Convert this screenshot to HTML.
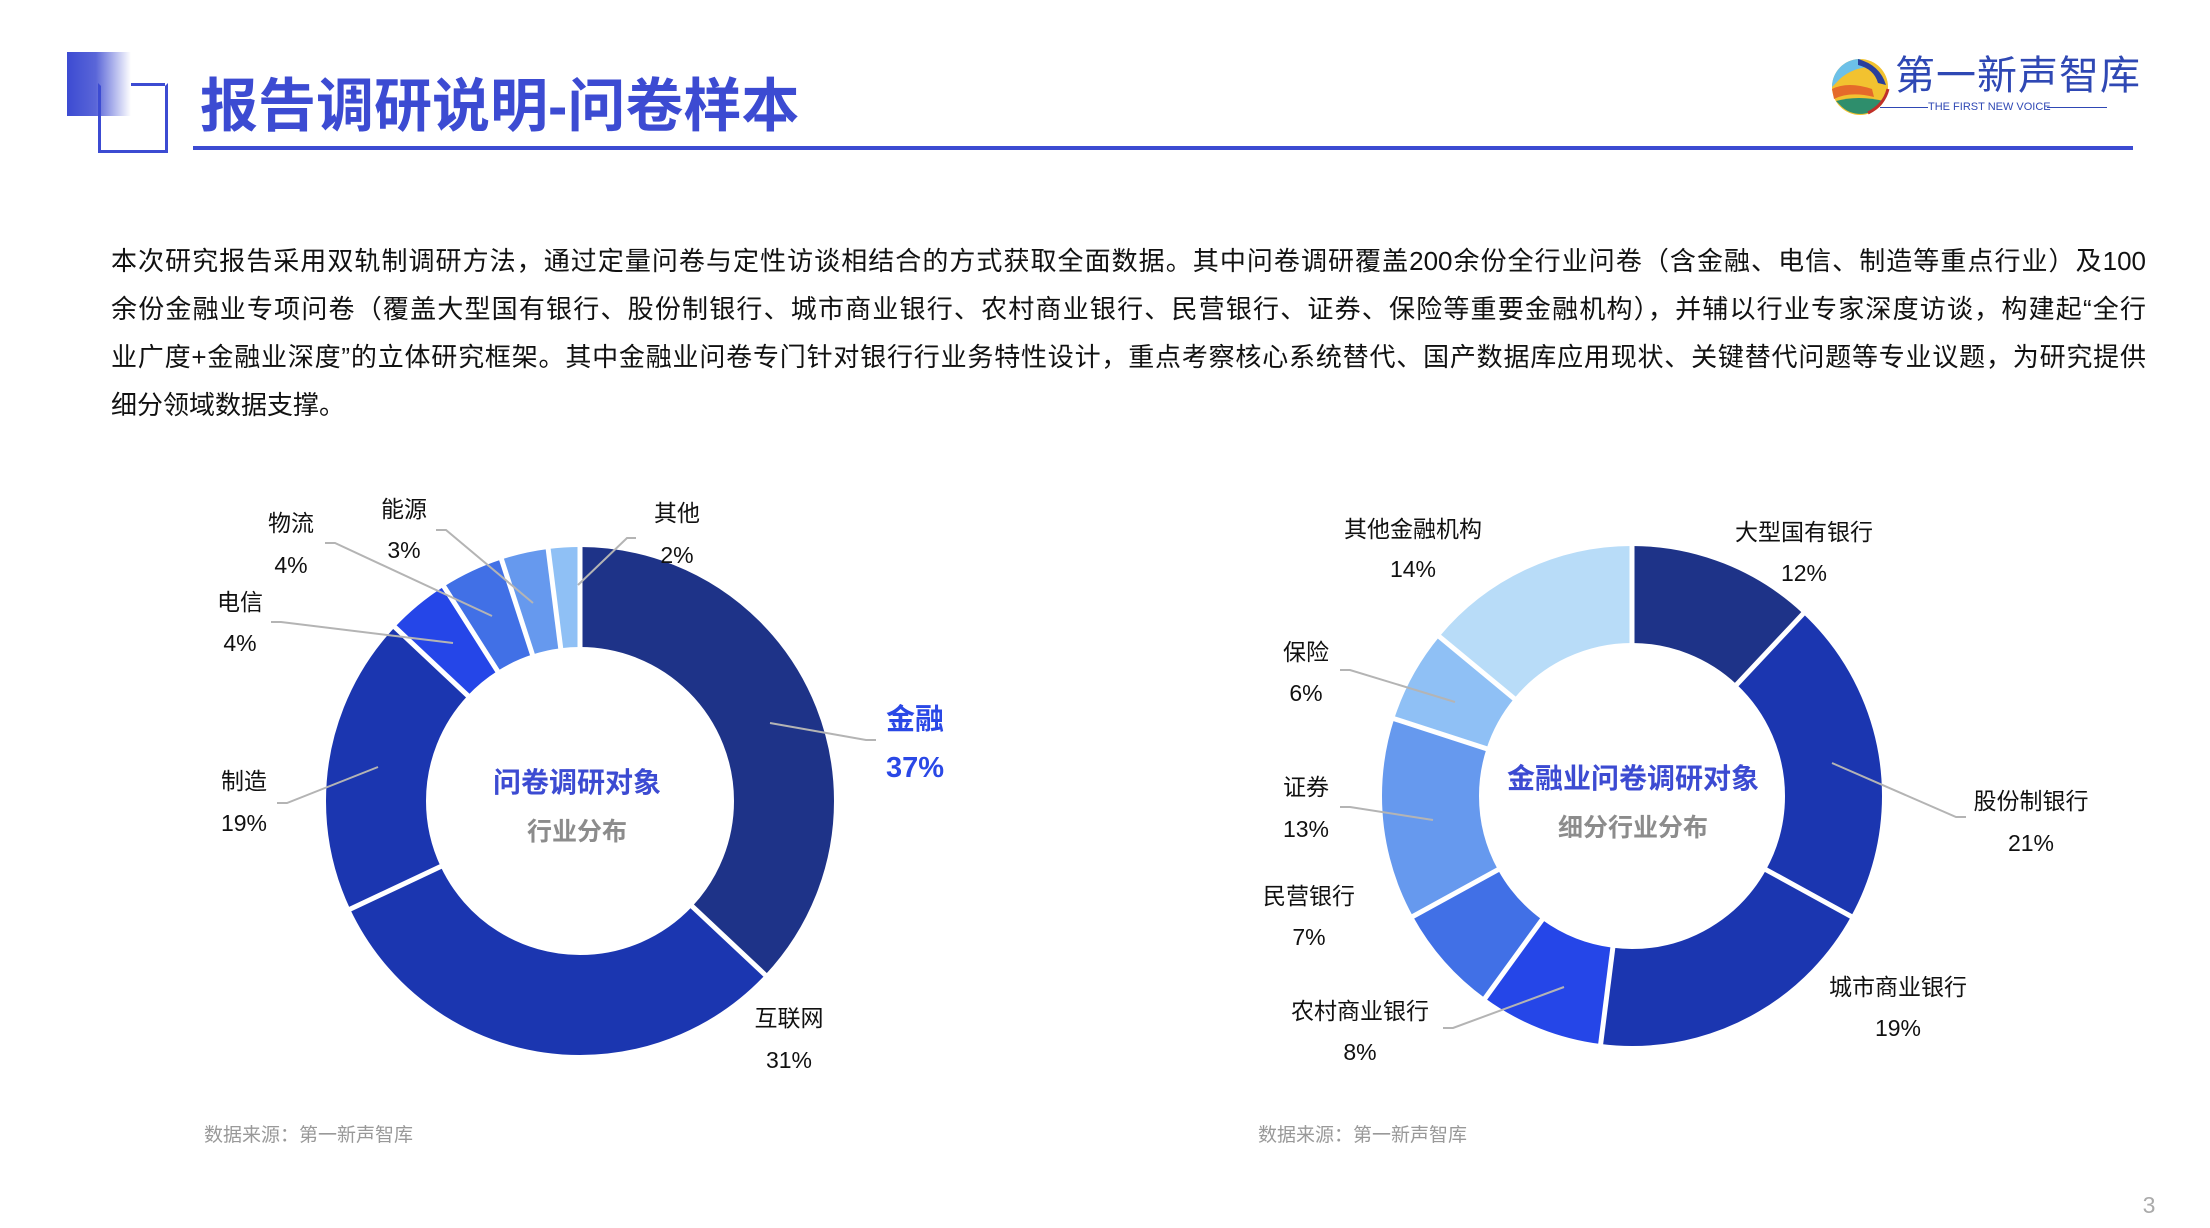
<!DOCTYPE html>
<html><head><meta charset="utf-8">
<style>
html,body{margin:0;padding:0;background:#fff;}
body{width:2210px;height:1228px;position:relative;overflow:hidden;font-family:"Liberation Sans","Noto Sans CJK SC",sans-serif;}
.abs{position:absolute;}
.para{position:absolute;left:111px;width:2035px;font-size:26px;color:#111;white-space:nowrap;text-align:justify;text-align-last:justify;line-height:34px;}
</style></head><body>
<div class="abs" style="left:67px;top:52px;width:64px;height:64px;background:linear-gradient(90deg,#3c4bd2 0%,#5a66d8 45%,#ffffff 100%);"></div>
<div class="abs" style="left:98px;top:83px;width:64px;height:64px;border:3px solid #3c4bd2;border-top-color:transparent;border-left-color:#3c4bd2;"></div>
<div class="abs" style="left:98px;top:83px;width:35px;height:33px;background:transparent;border-top:3px solid transparent;"></div>
<div class="abs" style="left:131px;top:83px;width:34px;height:3px;background:#3c4bd2;"></div>
<div class="abs" style="left:200px;top:72px;font-size:58px;font-weight:bold;color:#3c4bd2;line-height:70px;white-space:nowrap;">报告调研说明-问卷样本</div>
<div class="abs" style="left:193px;top:146px;width:1940px;height:4px;background:#3c4bd2;"></div>

<svg class="abs" style="left:1828px;top:55px" width="64" height="64" viewBox="0 0 64 64">
<circle cx="32" cy="32" r="28" fill="#f2c230"/>
<path d="M4 32 A28 28 0 0 1 32 4 L40 12 Q20 14 8 28Z" fill="#6cc0e8"/>
<path d="M4 34 Q20 26 44 34 L46 42 Q22 36 6 44Z" fill="#e56a2a"/>
<path d="M8 46 Q30 40 56 46 A28 28 0 0 1 14 52Z" fill="#2e8e6c"/>
<path d="M30 4 Q52 10 58 30 L50 28 Q46 14 30 10Z" fill="#2a3f9c"/>
<path d="M40 58 Q56 50 60 34" stroke="#c0302a" stroke-width="3" fill="none"/>
</svg>
<div class="abs" style="left:1895px;top:52px;font-size:40px;color:#2f48b4;line-height:48px;white-space:nowrap;letter-spacing:1px;">第一新声智库</div>
<div class="abs" style="left:1880px;top:107px;width:48px;height:1px;background:#2f48b4;"></div>
<div class="abs" style="left:1928px;top:99px;font-size:11px;color:#2f48b4;white-space:nowrap;line-height:16px;">THE FIRST NEW VOICE</div>
<div class="abs" style="left:2047px;top:107px;width:60px;height:1px;background:#2f48b4;"></div>

<div class="para" style="top:244px;">本次研究报告采用双轨制调研方法，通过定量问卷与定性访谈相结合的方式获取全面数据。其中问卷调研覆盖200余份全行业问卷（含金融、电信、制造等重点行业）及100</div>
<div class="para" style="top:292px;">余份金融业专项问卷（覆盖大型国有银行、股份制银行、城市商业银行、农村商业银行、民营银行、证券、保险等重要金融机构），并辅以行业专家深度访谈，构建起“全行</div>
<div class="para" style="top:340px;">业广度+金融业深度”的立体研究框架。其中金融业问卷专门针对银行行业务特性设计，重点考察核心系统替代、国产数据库应用现状、关键替代问题等专业议题，为研究提供</div>
<div class="para" style="top:388px;text-align-last:left;">细分领域数据支撑。</div>

<svg class="abs" style="left:0;top:0" width="2210" height="1228">
<g transform="rotate(-90 580 801)" fill="none" stroke-width="100">
<circle cx="580" cy="801" r="204" pathLength="100" stroke="#1e3388" stroke-dasharray="37 63" stroke-dashoffset="0"/>
<circle cx="580" cy="801" r="204" pathLength="100" stroke="#1b36b0" stroke-dasharray="31 69" stroke-dashoffset="-37"/>
<circle cx="580" cy="801" r="204" pathLength="100" stroke="#1b36b0" stroke-dasharray="19 81" stroke-dashoffset="-68"/>
<circle cx="580" cy="801" r="204" pathLength="100" stroke="#2546e8" stroke-dasharray="4 96" stroke-dashoffset="-87"/>
<circle cx="580" cy="801" r="204" pathLength="100" stroke="#4170e6" stroke-dasharray="4 96" stroke-dashoffset="-91"/>
<circle cx="580" cy="801" r="204" pathLength="100" stroke="#6699ee" stroke-dasharray="3 97" stroke-dashoffset="-95"/>
<circle cx="580" cy="801" r="204" pathLength="100" stroke="#8fc0f5" stroke-dasharray="2 98" stroke-dashoffset="-98"/>
</g>
<g stroke="#fff" stroke-width="5">
<line x1="580" y1="650" x2="580" y2="544" transform="rotate(0 580 801)"/>
<line x1="580" y1="650" x2="580" y2="544" transform="rotate(133.2 580 801)"/>
<line x1="580" y1="650" x2="580" y2="544" transform="rotate(244.8 580 801)"/>
<line x1="580" y1="650" x2="580" y2="544" transform="rotate(313.2 580 801)"/>
<line x1="580" y1="650" x2="580" y2="544" transform="rotate(327.6 580 801)"/>
<line x1="580" y1="650" x2="580" y2="544" transform="rotate(342 580 801)"/>
<line x1="580" y1="650" x2="580" y2="544" transform="rotate(352.8 580 801)"/>
</g>
<g stroke="#b4b4b4" stroke-width="2" fill="none">
<polyline points="578,585 627,538 636,538"/>
<polyline points="533,603 446,530 436,530"/>
<polyline points="492,616 335,543 325,543"/>
<polyline points="453,643 281,622 271,622"/>
<polyline points="378,767 287,803 277,803"/>
<polyline points="770,723 866,740 876,740"/>
</g>

<g transform="rotate(-90 1632 796)" fill="none" stroke-width="97">
<circle cx="1632" cy="796" r="201.5" pathLength="100" stroke="#1e3388" stroke-dasharray="12 88" stroke-dashoffset="0"/>
<circle cx="1632" cy="796" r="201.5" pathLength="100" stroke="#1b36b0" stroke-dasharray="21 79" stroke-dashoffset="-12"/>
<circle cx="1632" cy="796" r="201.5" pathLength="100" stroke="#1b36b0" stroke-dasharray="19 81" stroke-dashoffset="-33"/>
<circle cx="1632" cy="796" r="201.5" pathLength="100" stroke="#2546e8" stroke-dasharray="8 92" stroke-dashoffset="-52"/>
<circle cx="1632" cy="796" r="201.5" pathLength="100" stroke="#4170e6" stroke-dasharray="7 93" stroke-dashoffset="-60"/>
<circle cx="1632" cy="796" r="201.5" pathLength="100" stroke="#6699ee" stroke-dasharray="13 87" stroke-dashoffset="-67"/>
<circle cx="1632" cy="796" r="201.5" pathLength="100" stroke="#8fc0f5" stroke-dasharray="6 94" stroke-dashoffset="-80"/>
<circle cx="1632" cy="796" r="201.5" pathLength="100" stroke="#b8dcf8" stroke-dasharray="14 86" stroke-dashoffset="-86"/>
</g>
<g stroke="#fff" stroke-width="5">
<line x1="1632" y1="646" x2="1632" y2="542" transform="rotate(0 1632 796)"/>
<line x1="1632" y1="646" x2="1632" y2="542" transform="rotate(43.2 1632 796)"/>
<line x1="1632" y1="646" x2="1632" y2="542" transform="rotate(118.8 1632 796)"/>
<line x1="1632" y1="646" x2="1632" y2="542" transform="rotate(187.2 1632 796)"/>
<line x1="1632" y1="646" x2="1632" y2="542" transform="rotate(216 1632 796)"/>
<line x1="1632" y1="646" x2="1632" y2="542" transform="rotate(241.2 1632 796)"/>
<line x1="1632" y1="646" x2="1632" y2="542" transform="rotate(288 1632 796)"/>
<line x1="1632" y1="646" x2="1632" y2="542" transform="rotate(309.6 1632 796)"/>
</g>
<g stroke="#b4b4b4" stroke-width="2" fill="none">
<polyline points="1455,702 1350,670 1340,670"/>
<polyline points="1433,820 1350,807 1340,807"/>
<polyline points="1564,987 1453,1028 1443,1028"/>
<polyline points="1832,763 1956,817 1966,817"/>
</g>

<g font-family="Liberation Sans, Noto Sans CJK SC, sans-serif" font-size="23" fill="#111" text-anchor="middle">
<text x="677" y="521">其他</text><text x="677" y="563">2%</text>
<text x="404" y="517">能源</text><text x="404" y="558">3%</text>
<text x="291" y="531">物流</text><text x="291" y="573">4%</text>
<text x="240" y="610">电信</text><text x="240" y="651">4%</text>
<text x="244" y="789">制造</text><text x="244" y="831">19%</text>
<text x="789" y="1026">互联网</text><text x="789" y="1068">31%</text>
<text x="915" y="729" font-size="29" font-weight="bold" fill="#2a48e6">金融</text>
<text x="915" y="777" font-size="29" font-weight="bold" fill="#2a48e6">37%</text>
<text x="577" y="792" font-size="28" font-weight="bold" fill="#3c4bd2">问卷调研对象</text>
<text x="577" y="840" font-size="25" font-weight="bold" fill="#8c8c8c">行业分布</text>

<text x="1413" y="537">其他金融机构</text><text x="1413" y="577">14%</text>
<text x="1804" y="540">大型国有银行</text><text x="1804" y="581">12%</text>
<text x="1306" y="660">保险</text><text x="1306" y="701">6%</text>
<text x="1306" y="795">证券</text><text x="1306" y="837">13%</text>
<text x="1309" y="904">民营银行</text><text x="1309" y="945">7%</text>
<text x="1360" y="1019">农村商业银行</text><text x="1360" y="1060">8%</text>
<text x="2031" y="809">股份制银行</text><text x="2031" y="851">21%</text>
<text x="1898" y="995">城市商业银行</text><text x="1898" y="1036">19%</text>
<text x="1633" y="788" font-size="28" font-weight="bold" fill="#3c4bd2">金融业问卷调研对象</text>
<text x="1633" y="836" font-size="25" font-weight="bold" fill="#8c8c8c">细分行业分布</text>
</g>
<g font-family="Liberation Sans, Noto Sans CJK SC, sans-serif" font-size="19" fill="#999">
<text x="204" y="1141">数据来源：第一新声智库</text>
<text x="1258" y="1141">数据来源：第一新声智库</text>
<text x="2149" y="1213" font-size="23" fill="#aaa" text-anchor="middle">3</text>
</g>
</svg>
</body></html>
